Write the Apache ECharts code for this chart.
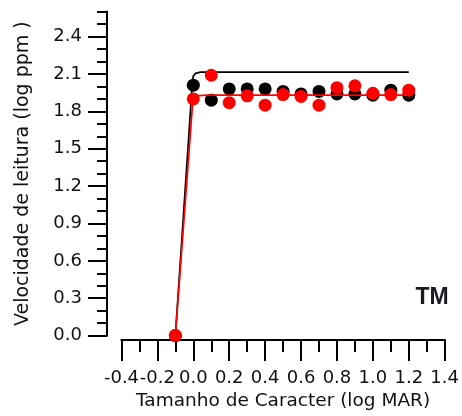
<!DOCTYPE html>
<html>
<head>
<meta charset="utf-8">
<script src="https://cdn.jsdelivr.net/npm/echarts@6/dist/echarts.min.js"></script>
<style>
  html, body { margin: 0; padding: 0; background: #ffffff; }
  #chart { width: 462px; height: 416px; }
</style>
</head>
<body>
<div id="chart"></div>
<script>
// Character size (log MAR) at which reading speed was measured
const charSizes = [-0.1, 0.0, 0.1, 0.2, 0.3, 0.4, 0.5, 0.6, 0.7, 0.8, 0.9, 1.0, 1.1, 1.2];

// Reading speed (log ppm), two measurement sets
const speedBlack = [0.0, 2.01, 1.89, 1.98, 1.98, 1.98, 1.96, 1.94, 1.96, 1.94, 1.94, 1.93, 1.97, 1.93];
const speedRed   = [0.0, 1.90, 2.09, 1.87, 1.925, 1.85, 1.935, 1.92, 1.85, 1.99, 2.005, 1.945, 1.935, 1.97];

// Fitted curves (rise then plateau)
const fitBlackX = [-0.1, -0.006, -0.001, 0.012, 0.04, 1.2];
const fitBlackY = [0.0, 2.02, 2.08, 2.105, 2.115, 2.115];
const fitRedX   = [-0.1, -0.002, 0.01, 0.08, 1.2];
const fitRedY   = [0.0, 1.90, 1.925, 1.93, 1.93];

// Axis tick labels
const xTickLabels = [-0.4, -0.2, 0.0, 0.2, 0.4, 0.6, 0.8, 1.0, 1.2, 1.4];
const yTickLabels = [0.0, 0.3, 0.6, 0.9, 1.2, 1.5, 1.8, 2.1, 2.4];

const pairs = (xs, ys) => xs.map((x, i) => [x, ys[i]]);

const textColor = '#111';
const labelFont = { color: textColor, fontFamily: 'DejaVu Sans', fontSize: 18 };
const axisLine = { show: true, onZero: false, lineStyle: { color: '#000', width: 2 } };

const chart = echarts.init(document.getElementById('chart'), null, { renderer: 'canvas' });

chart.setOption({
  animation: false,
  backgroundColor: '#ffffff',
  grid: { left: 121.5, right: 16, top: 11.7, bottom: 79.5, containLabel: false },
  xAxis: [
    {
      type: 'value', min: -0.4, max: 1.4, position: 'bottom', offset: 4.5,
      axisLine: axisLine,
      axisTick: { show: true, length: 21, lineStyle: { color: '#000', width: 2 }, customValues: xTickLabels },
      axisLabel: Object.assign({ margin: 29, customValues: xTickLabels, formatter: v => v.toFixed(1) }, labelFont),
      splitLine: { show: false },
      name: 'Tamanho de Caracter (log MAR)', nameLocation: 'middle', nameGap: 51,
      nameTextStyle: { color: textColor, fontFamily: 'DejaVu Sans', fontSize: 18.5 }
    },
    {
      type: 'value', min: -0.4, max: 1.4, interval: 0.1, position: 'bottom', offset: 4.5,
      axisLine: axisLine,
      axisTick: { show: true, length: 12, lineStyle: { color: '#000', width: 2 } },
      axisLabel: { show: false },
      splitLine: { show: false }
    }
  ],
  yAxis: [
    {
      type: 'value', min: 0, max: 2.6, position: 'left', offset: 14.5,
      axisLine: axisLine,
      axisTick: { show: true, length: 19, lineStyle: { color: '#000', width: 2 }, customValues: yTickLabels },
      axisLabel: Object.assign({ margin: 25, customValues: yTickLabels, formatter: v => v.toFixed(1) }, labelFont),
      splitLine: { show: false },
      name: 'Velocidade de leitura (log ppm )', nameLocation: 'middle', nameRotate: 90, nameGap: 74,
      nameTextStyle: { color: textColor, fontFamily: 'DejaVu Sans', fontSize: 19 }
    },
    {
      type: 'value', min: 0, max: 2.6, interval: 0.1, position: 'left', offset: 14.5,
      axisLine: axisLine,
      axisTick: { show: true, length: 10, lineStyle: { color: '#000', width: 2 } },
      axisLabel: { show: false },
      splitLine: { show: false }
    }
  ],
  series: [
    {
      type: 'line', name: 'ajuste preto', data: pairs(fitBlackX, fitBlackY),
      symbol: 'none', lineStyle: { color: '#000', width: 1.7 }, z: 2
    },
    {
      type: 'scatter', name: 'preto', data: pairs(charSizes, speedBlack),
      symbol: 'circle', symbolSize: 13, itemStyle: { color: '#000', opacity: 1 }, z: 3
    },
    {
      type: 'line', name: 'ajuste vermelho', data: pairs(fitRedX, fitRedY),
      symbol: 'none', lineStyle: { color: '#ff0000', width: 1.7 }, z: 4
    },
    {
      type: 'scatter', name: 'vermelho', data: pairs(charSizes, speedRed),
      symbol: 'circle', symbolSize: 13, itemStyle: { color: '#ff0000', opacity: 1 }, z: 5
    }
  ],
  graphic: [
    {
      type: 'text', x: 432, y: 298,
      style: {
        text: 'TM', fill: '#1a1a22', font: 'bold 23px "Liberation Sans", Arial, sans-serif',
        textAlign: 'center', textVerticalAlign: 'middle'
      }
    }
  ]
});
</script>
</body>
</html>
